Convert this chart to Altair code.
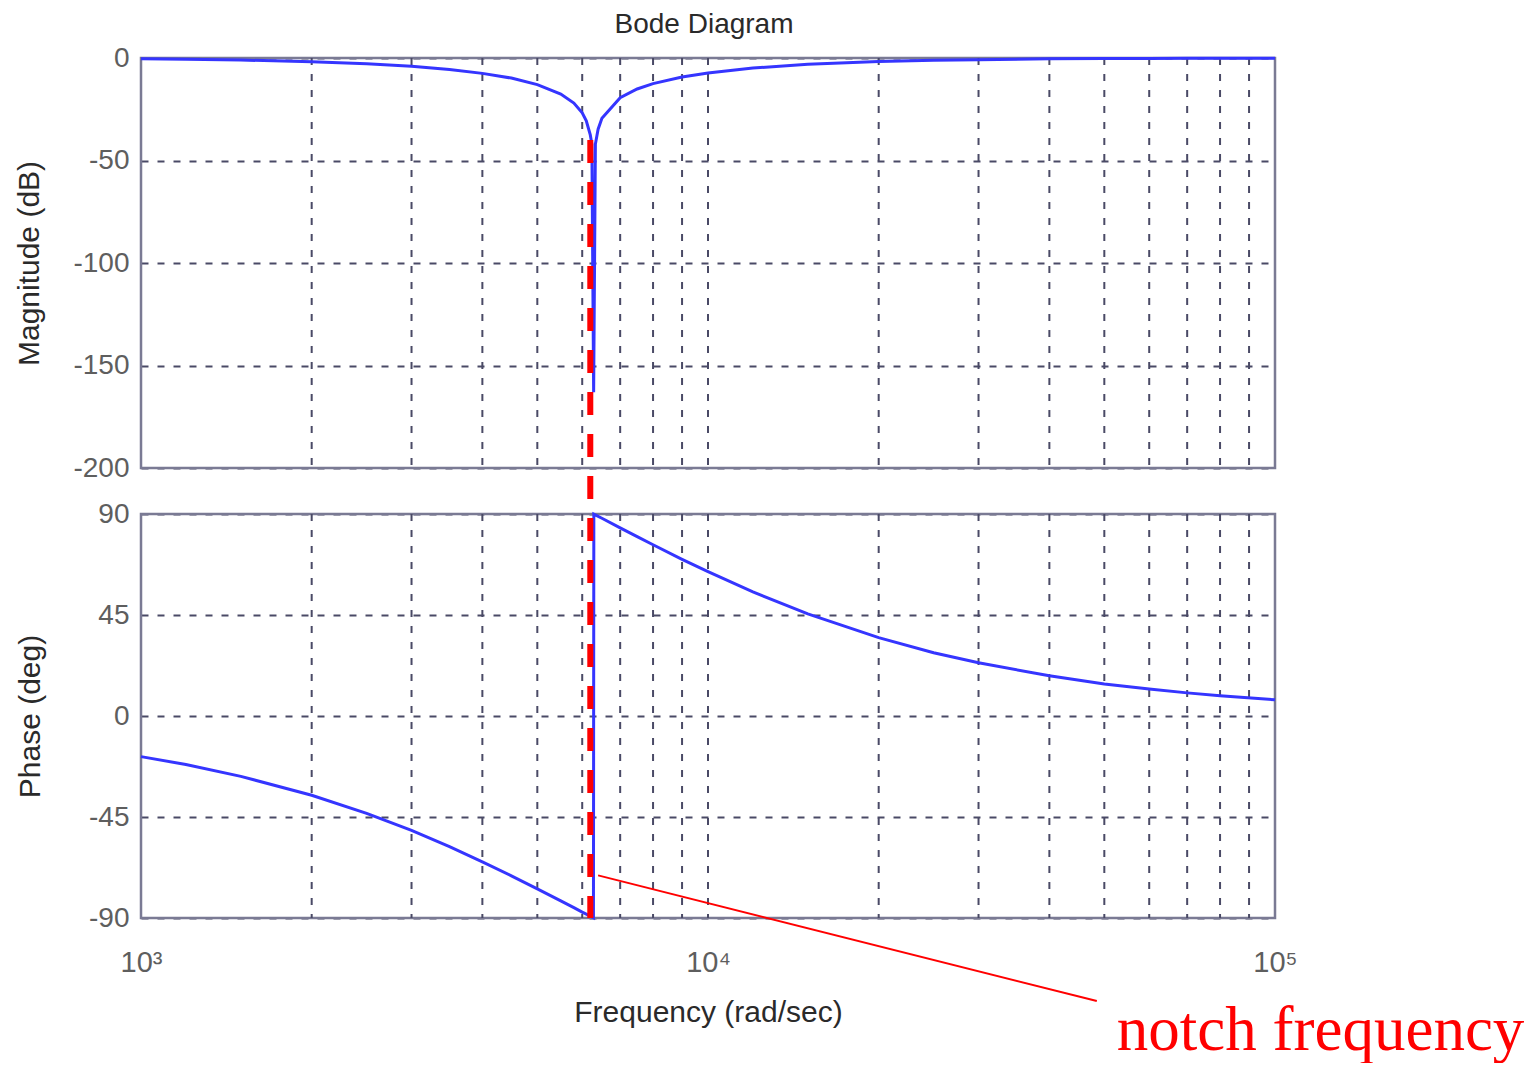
import altair as alt
import pandas as pd

# ---------------- data ----------------
freq_mag = [1000, 1200, 1500, 2000, 2500, 3000, 3500, 4000, 4500, 5000,
            5500, 5800, 6000, 6100, 6200, 6240, 6285, 6330, 6400, 6500,
            7000, 7500, 8000, 9000, 10000, 12000, 15000, 20000, 25000, 30000,
            40000, 50000, 60000, 70000, 80000, 100000]
mag_db = [-0.4, -0.6, -1.0, -1.8, -2.8, -4.0, -5.6, -7.5, -9.8, -13.0,
          -17.6, -22.0, -26.7, -30.6, -37.5, -42.0, -163.0, -42.0, -34.7, -29.4,
          -19.4, -15.1, -12.5, -9.3, -7.3, -4.9, -3.1, -1.7, -1.1, -0.8,
          -0.4, -0.3, -0.2, -0.1, -0.1, -0.1]

freq_phase = [1000, 1200, 1500, 2000, 2500, 3000, 3500, 4000, 4500, 5000,
              5500, 5800, 6000, 6100, 6200, 6280, 6290, 6350, 6500, 7000,
              7500, 8000, 9000, 10000, 12000, 15000, 20000, 25000, 30000, 40000,
              50000, 60000, 70000, 80000, 100000]
phase_deg = [-18.1, -21.6, -26.9, -35.3, -43.4, -51.0, -58.2, -65.0, -71.2, -77.0,
             -82.4, -85.4, -87.4, -88.3, -89.2, -89.9, 89.9, 89.4, 88.1, 83.8,
             79.9, 76.3, 69.8, 64.3, 55.3, 45.5, 34.9, 28.2, 23.7, 17.9,
             14.3, 12.0, 10.3, 9.0, 7.2]

grid_freqs = [2000, 3000, 4000, 5000, 6000, 7000, 8000, 9000, 10000,
              20000, 30000, 40000, 50000, 60000, 70000, 80000, 90000]
mag_ticks = [0, -50, -100, -150, -200]
phase_ticks = [90, 45, 0, -45, -90]
x_tick_values = [1000, 10000, 100000]
x_tick_labels = ["10³", "10⁴", "10⁵"]

notch_freq = [6200]
notch_top_db = [-40]
pointer_from = [6400, -71]
pointer_to = [48500, -127]
label_at = [52600, -149]
label_text = ["notch frequency"]

# ---------------- layout / style ----------------
W, H = 1134, 860
MAG_H = 410
PH_TOP = 456
FONT = "Liberation Sans"
BLUE = "#3535ff"
GRID = "#4a4a66"
FRAME = "#7a7a94"
LABEL_C = "#5e5e5e"
TITLE_C = "#2a2a2a"

label_expr = "''"
for v, t in reversed(list(zip(x_tick_values, x_tick_labels))):
    label_expr = f"datum.value == {v} ? '{t}' : ({label_expr})"

x_enc = alt.X(
    "freq:Q",
    scale=alt.Scale(type="log", domain=[1000, 100000], nice=False),
    axis=alt.Axis(values=x_tick_values, labelExpr=label_expr,
                  title="Frequency (rad/sec)", grid=False, domain=False,
                  ticks=False, tickSize=0, labelFlush=False, labelPadding=30,
                  titlePadding=20, labelFontSize=29, titleFontSize=30,
                  labelFont=FONT, titleFont=FONT, labelColor=LABEL_C,
                  titleColor=TITLE_C, titleFontWeight="normal"),
)

def y_axis(title, values, tpad):
    return alt.Axis(orient="left", values=values, title=title, grid=True,
                    gridDash=[7, 9], gridColor=GRID, gridWidth=2,
                    gridOpacity=1, domain=False, ticks=False, tickSize=0,
                    labelExpr="'' + datum.value",
                    labelPadding=12, titlePadding=tpad, labelFontSize=28,
                    titleFontSize=30, labelFont=FONT, titleFont=FONT,
                    labelColor=LABEL_C, titleColor=TITLE_C,
                    titleFontWeight="normal")

mag_scale = alt.Scale(domain=[-200, 0], range=[MAG_H, 0], nice=False, zero=False)
ph_scale = alt.Scale(domain=[-90, 90], range=[H, PH_TOP], nice=False, zero=False)

y_mag = alt.Y("mag:Q", scale=mag_scale, axis=y_axis("Magnitude (dB)", mag_ticks, 28))
y_ph = alt.Y("phase:Q", scale=ph_scale, axis=y_axis("Phase (deg)", phase_ticks, 43))

mag_df = pd.DataFrame({"freq": freq_mag, "mag": mag_db})
ph_df = pd.DataFrame({"freq": freq_phase, "phase": phase_deg})

mag_frame_df = pd.DataFrame({"freq": [1000], "freq2": [100000], "mag": [0], "mag2": [-200]})
ph_frame_df = pd.DataFrame({"freq": [1000], "freq2": [100000], "phase": [90], "phase2": [-90]})
mag_grid_df = pd.DataFrame({"freq": grid_freqs, "mag": [0] * len(grid_freqs),
                            "mag2": [-200] * len(grid_freqs)})
ph_grid_df = pd.DataFrame({"freq": grid_freqs, "phase": [90] * len(grid_freqs),
                           "phase2": [-90] * len(grid_freqs)})

mag_group = alt.layer(
    alt.Chart(mag_frame_df).mark_rect(filled=False, stroke=FRAME, strokeWidth=2.5).encode(
        x=x_enc, x2="freq2:Q", y=y_mag, y2="mag2:Q"),
    alt.Chart(mag_grid_df).mark_rule(color=GRID, strokeWidth=2, strokeDash=[7, 9]).encode(
        x=x_enc, y=y_mag, y2="mag2:Q"),
    alt.Chart(mag_df).mark_line(color=BLUE, strokeWidth=3).encode(x=x_enc, y=y_mag),
)

ann_line_df = pd.DataFrame({"freq": [pointer_from[0]], "freq2": [pointer_to[0]],
                            "phase": [pointer_from[1]], "phase2": [pointer_to[1]]})
ann_text_df = pd.DataFrame({"freq": [label_at[0]], "phase": [label_at[1]], "txt": label_text})

ph_group = alt.layer(
    alt.Chart(ph_frame_df).mark_rect(filled=False, stroke=FRAME, strokeWidth=2.5).encode(
        x=x_enc, x2="freq2:Q", y=y_ph, y2="phase2:Q"),
    alt.Chart(ph_grid_df).mark_rule(color=GRID, strokeWidth=2, strokeDash=[7, 9]).encode(
        x=x_enc, y=y_ph, y2="phase2:Q"),
    alt.Chart(ph_df).mark_line(color=BLUE, strokeWidth=3).encode(x=x_enc, y=y_ph),
    alt.Chart(ann_line_df).mark_rule(color="#ff0000", strokeWidth=2).encode(
        x=x_enc, x2="freq2:Q", y=y_ph, y2="phase2:Q"),
    alt.Chart(ann_text_df).mark_text(font="Liberation Serif", fontSize=63, color="#ff0000",
                                     align="left", baseline="alphabetic").encode(
        x=x_enc, y=y_ph, text="txt:N"),
)

red_df = pd.DataFrame({"freq": notch_freq, "mag": notch_top_db})
red_layer = alt.Chart(red_df).mark_rule(color="#ff0000", strokeWidth=6, strokeDash=[23, 19]).encode(
    x=x_enc,
    y=alt.Y("mag:Q", scale=mag_scale, axis=None),
    y2=alt.value(H),
)

chart = alt.layer(mag_group, ph_group, red_layer).resolve_scale(
    y="independent").resolve_axis(y="independent").properties(
    width=W, height=H,
    title=alt.TitleParams("Bode Diagram", fontSize=28, font=FONT, color=TITLE_C,
                          fontWeight="normal", anchor="middle", offset=5, dx=-4),
    autosize=alt.AutoSizeParams(type="none"),
    padding={"left": 133, "top": 50, "right": 257, "bottom": 145},
    background="white",
).configure_view(stroke=None)

chart.save("out.html", embed_options={"renderer": "svg", "actions": False})
